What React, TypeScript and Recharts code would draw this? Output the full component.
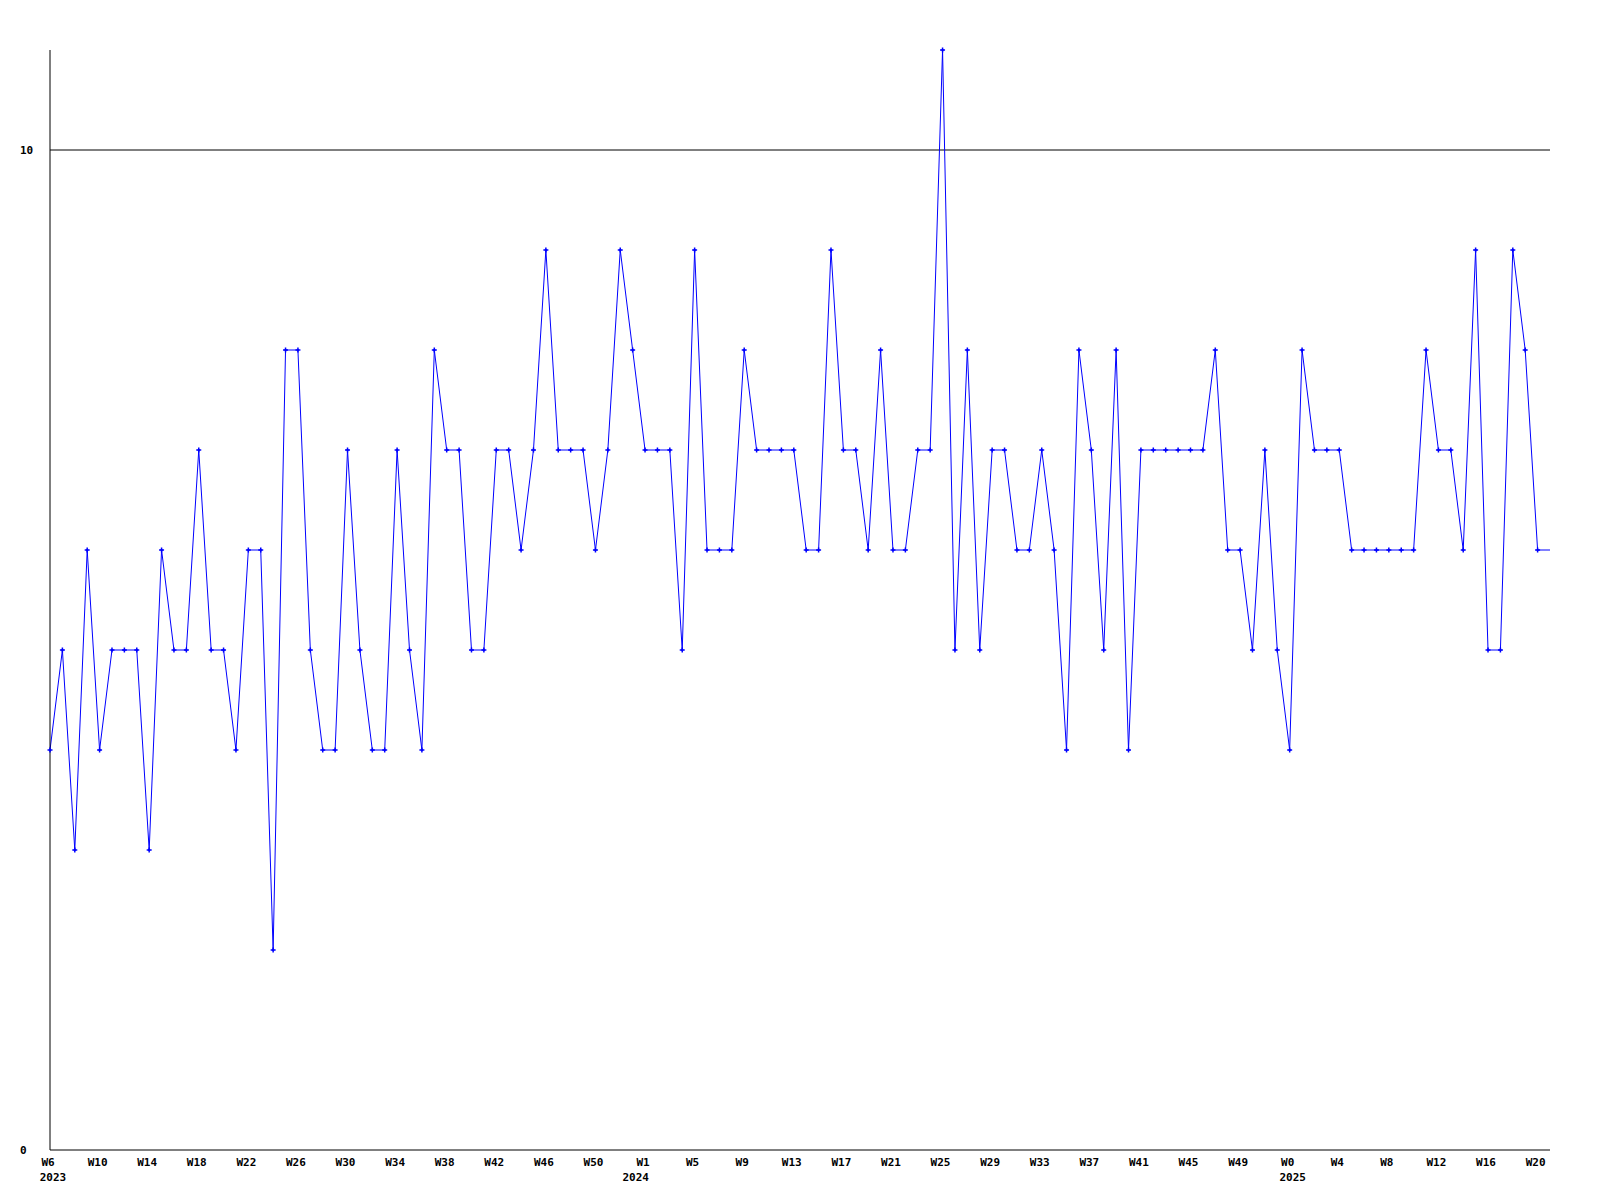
import { LineChart, Line, XAxis, YAxis, ReferenceLine } from "recharts";

// weekly values per year: 2023 W6..W52, 2024 W0..W52, 2025 W0..W21
const values2023 = [
  4, 5, 3, 6, 4, 5, 5, 5, 3, 6, 5, 5, 7, 5, 5, 4, 6, 6, 2, 8, 8, 5, 4, 4,
  7, 5, 4, 4, 7, 5, 4, 8, 7, 7, 5, 5, 7, 7, 6, 7, 9, 7, 7, 7, 6, 7, 9,
];
const values2024 = [
  8, 7, 7, 7, 5, 9, 6, 6, 6, 8, 7, 7, 7, 7, 6, 6, 9, 7, 7, 6, 8, 6, 6, 7,
  7, 11, 5, 8, 5, 7, 7, 6, 6, 7, 6, 4, 8, 7, 5, 8, 4, 7, 7, 7, 7, 7, 7, 8,
  6, 6, 5, 7, 5,
];
const values2025 = [4, 8, 7, 7, 7, 6, 6, 6, 6, 6, 6, 8, 7, 7, 6, 9, 5, 5, 9, 8, 6, 6];

const weekStart: Record<string, number> = { "2023": 6, "2024": 0, "2025": 0 };
const yTicks = [0, 10];
const yearStartKeys = ["2023 W6", "2024 W0", "2025 W0"];

const FONT = "'DejaVu Sans Mono', monospace";

const data = [
  ...values2023.map((v, i) => ({ key: `2023 W${weekStart["2023"] + i}`, value: v })),
  ...values2024.map((v, i) => ({ key: `2024 W${weekStart["2024"] + i}`, value: v })),
  ...values2025.map((v, i) => ({ key: `2025 W${weekStart["2025"] + i}`, value: v })),
];
const lastIndex = data.length - 1;

function WeekTick(props: any) {
  const { x, y, payload } = props;
  const week = String(payload.value).split(" ")[1];
  return (
    <text x={x - 2} y={y + 8} textAnchor="middle" fontFamily={FONT} fontWeight="bold" fontSize={11} fill="#000">
      {week}
    </text>
  );
}

function YearTick(props: any) {
  const { x, y, payload } = props;
  if (!yearStartKeys.includes(payload.value)) return <g />;
  const year = String(payload.value).split(" ")[0];
  return (
    <text x={x + 3} y={y - 7} textAnchor="middle" fontFamily={FONT} fontWeight="bold" fontSize={11} fill="#000">
      {year}
    </text>
  );
}

function ValueTick(props: any) {
  const { y, payload } = props;
  return (
    <text x={20} y={y + 4} textAnchor="start" fontFamily={FONT} fontWeight="bold" fontSize={11} fill="#000">
      {payload.value}
    </text>
  );
}

function Marker(props: any) {
  const { cx, cy, index } = props;
  if (index === lastIndex || cx == null) return <g key={index} />;
  return (
    <g key={index}>
      <path d={`M${cx - 2.5},${cy}H${cx + 2.5}M${cx},${cy - 2.5}V${cy + 2.5}`} stroke="#0000ff" strokeWidth={1.5} />
      <rect x={cx - 1} y={cy - 1} width={2} height={2} fill="#0000ff" />
    </g>
  );
}

export default function App() {
  return (
    <div style={{ position: "absolute", left: 0, top: 0, width: 1600, height: 1200, background: "#fff" }}>
      <LineChart width={1600} height={1200} data={data} margin={{ top: 50, right: 50, left: 0, bottom: 0 }}>
        <XAxis
          dataKey="key"
          interval={3}
          height={30}
          tick={<WeekTick />}
          tickLine={false}
          axisLine={{ stroke: "#000" }}
        />
        <XAxis
          xAxisId="year"
          dataKey="key"
          interval={0}
          height={20}
          tick={<YearTick />}
          tickLine={false}
          axisLine={false}
        />
        <YAxis
          type="number"
          domain={[0, 11]}
          ticks={yTicks}
          width={50}
          tick={<ValueTick />}
          tickLine={false}
          axisLine={{ stroke: "#000" }}
        />
        <ReferenceLine y={10} stroke="#000" strokeWidth={1} />
        <Line
          type="linear"
          dataKey="value"
          stroke="#0000ff"
          strokeWidth={1}
          dot={<Marker />}
          activeDot={false}
          isAnimationActive={false}
        />
      </LineChart>
    </div>
  );
}
